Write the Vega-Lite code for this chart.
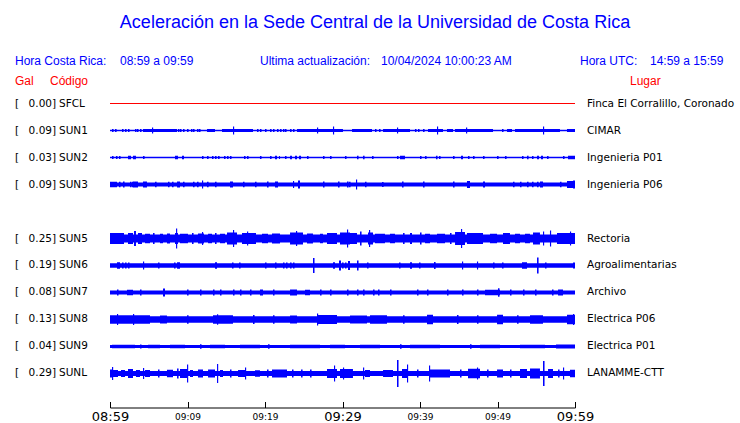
{
"$schema": "https://vega.github.io/schema/vega-lite/v6.json",
"width": 465, "height": 296,
"autosize": {"type": "none"},
"padding": {"left": 110, "top": 90.5, "right": 165, "bottom": 36.5},
"background": "white",
"config": {"view": {"stroke": null}, "text": {"font": "DejaVu Sans", "fontSize": 10.5, "color": "black", "baseline": "middle"}},
"datasets": {
"stations": [
{"station":"SFCL","gal":0.00,"lugar":"Finca El Corralillo, Coronado"},
{"station":"SUN1","gal":0.09,"lugar":"CIMAR"},
{"station":"SUN2","gal":0.03,"lugar":"Ingenieria P01"},
{"station":"SUN3","gal":0.09,"lugar":"Ingenieria P06"},
{"station":"SUN5","gal":0.25,"lugar":"Rectoria"},
{"station":"SUN6","gal":0.19,"lugar":"Agroalimentarias"},
{"station":"SUN7","gal":0.08,"lugar":"Archivo"},
{"station":"SUN8","gal":0.13,"lugar":"Electrica P06"},
{"station":"SUN9","gal":0.04,"lugar":"Electrica P01"},
{"station":"SUNL","gal":0.29,"lugar":"LANAMME-CTT"}
],
"segments": [
{"station":"SFCL","start":0,"end":60,"amp":1},
{"station":"SUN1","start":0,"end":60,"amp":1.3},
{"station":"SUN1","start":0.26,"end":0.46,"amp":3},{"station":"SUN1","start":0.65,"end":0.85,"amp":3},{"station":"SUN1","start":1.55,"end":1.75,"amp":3},{"station":"SUN1","start":1.94,"end":2.14,"amp":3},{"station":"SUN1","start":2.32,"end":2.52,"amp":3},{"station":"SUN1","start":3.23,"end":3.43,"amp":3},{"station":"SUN1","start":3.48,"end":3.68,"amp":3},{"station":"SUN1","start":3.87,"end":4.07,"amp":3},
{"station":"SUN1","start":4.26,"end":8.65,"amp":3},{"station":"SUN1","start":5.42,"end":5.57,"amp":6},
{"station":"SUN1","start":8.77,"end":8.97,"amp":3},{"station":"SUN1","start":9.03,"end":9.23,"amp":3},{"station":"SUN1","start":9.42,"end":9.62,"amp":3},{"station":"SUN1","start":9.94,"end":10.14,"amp":3},{"station":"SUN1","start":10.45,"end":10.65,"amp":3},{"station":"SUN1","start":10.71,"end":10.91,"amp":3},{"station":"SUN1","start":11.23,"end":11.43,"amp":3},{"station":"SUN1","start":11.48,"end":11.68,"amp":3},
{"station":"SUN1","start":12.52,"end":13.55,"amp":3},{"station":"SUN1","start":14.45,"end":18.45,"amp":3},{"station":"SUN1","start":15.87,"end":16.02,"amp":8},
{"station":"SUN1","start":18.97,"end":19.17,"amp":3},{"station":"SUN1","start":19.35,"end":19.55,"amp":3},{"station":"SUN1","start":20.0,"end":20.2,"amp":3},{"station":"SUN1","start":20.65,"end":20.85,"amp":3},{"station":"SUN1","start":21.03,"end":21.23,"amp":3},{"station":"SUN1","start":21.55,"end":21.75,"amp":3},{"station":"SUN1","start":21.94,"end":22.14,"amp":3},{"station":"SUN1","start":22.32,"end":22.52,"amp":3},{"station":"SUN1","start":22.58,"end":22.78,"amp":3},{"station":"SUN1","start":23.23,"end":23.43,"amp":3},{"station":"SUN1","start":23.61,"end":23.81,"amp":3},
{"station":"SUN1","start":24.13,"end":30.06,"amp":3},{"station":"SUN1","start":26.71,"end":26.86,"amp":6},{"station":"SUN1","start":28.77,"end":28.92,"amp":8},
{"station":"SUN1","start":31.23,"end":33.81,"amp":3},{"station":"SUN1","start":34.19,"end":34.39,"amp":3},{"station":"SUN1","start":34.71,"end":34.91,"amp":3},
{"station":"SUN1","start":35.23,"end":38.71,"amp":3},{"station":"SUN1","start":37.03,"end":37.18,"amp":6},
{"station":"SUN1","start":39.35,"end":39.55,"amp":3},{"station":"SUN1","start":39.74,"end":39.94,"amp":3},{"station":"SUN1","start":40.39,"end":40.59,"amp":3},
{"station":"SUN1","start":41.03,"end":42.97,"amp":3},{"station":"SUN1","start":42.19,"end":42.34,"amp":8},{"station":"SUN1","start":43.48,"end":44.26,"amp":3},{"station":"SUN1","start":44.52,"end":49.42,"amp":3},{"station":"SUN1","start":45.94,"end":46.09,"amp":6},
{"station":"SUN1","start":50.58,"end":50.78,"amp":3},{"station":"SUN1","start":51.23,"end":51.87,"amp":3},{"station":"SUN1","start":52.26,"end":58.06,"amp":3},{"station":"SUN1","start":55.87,"end":56.02,"amp":8},{"station":"SUN1","start":58.97,"end":60,"amp":3},
{"station":"SUN2","start":0,"end":60,"amp":1.3},
{"station":"SUN2","start":0.26,"end":0.46,"amp":3},{"station":"SUN2","start":0.77,"end":0.97,"amp":3},{"station":"SUN2","start":1.16,"end":1.36,"amp":3},{"station":"SUN2","start":2.32,"end":2.71,"amp":3.5},{"station":"SUN2","start":2.97,"end":3.35,"amp":3.5},{"station":"SUN2","start":4.26,"end":4.46,"amp":3},{"station":"SUN2","start":8.39,"end":8.77,"amp":3.5},{"station":"SUN2","start":9.29,"end":9.55,"amp":3.5},{"station":"SUN2","start":11.87,"end":12.07,"amp":3},{"station":"SUN2","start":12.52,"end":12.72,"amp":3},{"station":"SUN2","start":13.16,"end":13.36,"amp":3},{"station":"SUN2","start":13.55,"end":13.75,"amp":3},{"station":"SUN2","start":13.94,"end":14.14,"amp":3},{"station":"SUN2","start":14.71,"end":14.91,"amp":3},{"station":"SUN2","start":15.1,"end":15.3,"amp":3},{"station":"SUN2","start":15.48,"end":15.68,"amp":3},{"station":"SUN2","start":17.29,"end":17.49,"amp":3},{"station":"SUN2","start":17.68,"end":17.88,"amp":3},{"station":"SUN2","start":19.35,"end":19.55,"amp":3},{"station":"SUN2","start":20.65,"end":20.85,"amp":3},{"station":"SUN2","start":21.29,"end":21.55,"amp":3.5},{"station":"SUN2","start":21.81,"end":21.94,"amp":3},{"station":"SUN2","start":22.58,"end":22.78,"amp":3},{"station":"SUN2","start":23.23,"end":23.48,"amp":3.5},{"station":"SUN2","start":23.87,"end":24.13,"amp":3.5},{"station":"SUN2","start":24.39,"end":24.65,"amp":3.5},{"station":"SUN2","start":25.42,"end":25.62,"amp":3},{"station":"SUN2","start":27.48,"end":27.68,"amp":3},{"station":"SUN2","start":28.39,"end":28.59,"amp":3},
{"station":"SUN2","start":30.32,"end":30.52,"amp":3},{"station":"SUN2","start":31.87,"end":32.07,"amp":3.5},{"station":"SUN2","start":32.65,"end":32.85,"amp":3.5},{"station":"SUN2","start":33.81,"end":34.01,"amp":3},{"station":"SUN2","start":37.03,"end":37.23,"amp":3},{"station":"SUN2","start":37.42,"end":38.06,"amp":3.5},{"station":"SUN2","start":40.0,"end":40.2,"amp":3},{"station":"SUN2","start":40.65,"end":40.85,"amp":3},{"station":"SUN2","start":42.06,"end":42.26,"amp":3.5},{"station":"SUN2","start":42.45,"end":42.65,"amp":3},{"station":"SUN2","start":44.26,"end":44.46,"amp":3},{"station":"SUN2","start":45.29,"end":45.55,"amp":3.5},{"station":"SUN2","start":46.19,"end":46.39,"amp":3},{"station":"SUN2","start":46.84,"end":47.04,"amp":3},{"station":"SUN2","start":48.13,"end":48.33,"amp":3},{"station":"SUN2","start":49.94,"end":50.14,"amp":3},{"station":"SUN2","start":50.97,"end":51.17,"amp":3},{"station":"SUN2","start":53.16,"end":53.36,"amp":3},{"station":"SUN2","start":53.81,"end":54.01,"amp":3.5},{"station":"SUN2","start":54.45,"end":54.65,"amp":3},{"station":"SUN2","start":55.1,"end":55.35,"amp":3.5},{"station":"SUN2","start":55.61,"end":55.87,"amp":3.5},{"station":"SUN2","start":56.39,"end":56.59,"amp":3},{"station":"SUN2","start":58.45,"end":58.65,"amp":3},{"station":"SUN2","start":59.1,"end":60,"amp":3.5},
{"station":"SUN3","start":0,"end":60,"amp":4},
{"station":"SUN3","start":0,"end":0.9,"amp":5.5},{"station":"SUN3","start":1.16,"end":1.36,"amp":5.5},{"station":"SUN3","start":1.68,"end":1.88,"amp":6},{"station":"SUN3","start":2.58,"end":2.78,"amp":5.5},{"station":"SUN3","start":2.84,"end":3.0,"amp":5.5},{"station":"SUN3","start":2.97,"end":3.61,"amp":6},{"station":"SUN3","start":4.26,"end":4.77,"amp":6},{"station":"SUN3","start":5.81,"end":6.01,"amp":5.5},{"station":"SUN3","start":7.48,"end":7.68,"amp":5.5},{"station":"SUN3","start":8.0,"end":8.2,"amp":5.5},{"station":"SUN3","start":8.65,"end":9.03,"amp":6},{"station":"SUN3","start":9.42,"end":9.62,"amp":5.5},{"station":"SUN3","start":10.71,"end":10.91,"amp":5.5},{"station":"SUN3","start":11.23,"end":11.43,"amp":5.5},{"station":"SUN3","start":11.87,"end":12.02,"amp":8},{"station":"SUN3","start":12.52,"end":12.72,"amp":5.5},{"station":"SUN3","start":13.55,"end":13.75,"amp":5.5},{"station":"SUN3","start":15.48,"end":15.87,"amp":6},{"station":"SUN3","start":17.16,"end":17.36,"amp":5.5},{"station":"SUN3","start":18.71,"end":18.91,"amp":5.5},{"station":"SUN3","start":20.26,"end":20.46,"amp":6},{"station":"SUN3","start":21.29,"end":21.68,"amp":6},{"station":"SUN3","start":23.61,"end":23.76,"amp":7},{"station":"SUN3","start":24.26,"end":24.52,"amp":8},{"station":"SUN3","start":27.48,"end":27.68,"amp":6},{"station":"SUN3","start":29.42,"end":29.62,"amp":6},
{"station":"SUN3","start":30.58,"end":30.78,"amp":6},{"station":"SUN3","start":30.84,"end":31.04,"amp":5.5},{"station":"SUN3","start":31.74,"end":31.89,"amp":10},{"station":"SUN3","start":32.9,"end":33.1,"amp":5.5},{"station":"SUN3","start":35.1,"end":35.3,"amp":5},{"station":"SUN3","start":37.68,"end":37.88,"amp":6},{"station":"SUN3","start":40.39,"end":40.59,"amp":6},{"station":"SUN3","start":44.26,"end":44.46,"amp":6},{"station":"SUN3","start":46.06,"end":46.45,"amp":7},{"station":"SUN3","start":48.13,"end":48.39,"amp":6},{"station":"SUN3","start":52.0,"end":52.2,"amp":5.5},{"station":"SUN3","start":52.9,"end":53.1,"amp":5.5},{"station":"SUN3","start":53.81,"end":54.01,"amp":5.5},{"station":"SUN3","start":54.45,"end":54.65,"amp":5.5},{"station":"SUN3","start":55.1,"end":55.3,"amp":5.5},{"station":"SUN3","start":55.48,"end":55.87,"amp":6},{"station":"SUN3","start":58.06,"end":58.26,"amp":5.5},{"station":"SUN3","start":58.97,"end":59.74,"amp":7},{"station":"SUN3","start":59.74,"end":60,"amp":8},
{"station":"SUN5","start":0,"end":60,"amp":8},
{"station":"SUN5","start":0,"end":1.81,"amp":11},{"station":"SUN5","start":2.32,"end":2.97,"amp":11},{"station":"SUN5","start":3.1,"end":3.35,"amp":15},{"station":"SUN5","start":3.61,"end":4.13,"amp":11},{"station":"SUN5","start":4.52,"end":5.16,"amp":9.5},{"station":"SUN5","start":5.55,"end":5.75,"amp":11},{"station":"SUN5","start":6.45,"end":6.84,"amp":9.5},{"station":"SUN5","start":7.35,"end":7.74,"amp":10},{"station":"SUN5","start":8.39,"end":8.77,"amp":11},{"station":"SUN5","start":8.52,"end":8.67,"amp":20},{"station":"SUN5","start":9.03,"end":10.06,"amp":9.5},{"station":"SUN5","start":10.58,"end":10.78,"amp":11},{"station":"SUN5","start":11.35,"end":12.13,"amp":10},{"station":"SUN5","start":11.87,"end":12.02,"amp":13},{"station":"SUN5","start":12.65,"end":13.16,"amp":9.5},{"station":"SUN5","start":13.55,"end":13.75,"amp":11},{"station":"SUN5","start":14.19,"end":14.84,"amp":9.5},{"station":"SUN5","start":15.1,"end":16.39,"amp":12},{"station":"SUN5","start":15.87,"end":16.02,"amp":17},{"station":"SUN5","start":17.03,"end":18.84,"amp":11},{"station":"SUN5","start":17.68,"end":17.83,"amp":14},{"station":"SUN5","start":19.61,"end":20.39,"amp":9.5},{"station":"SUN5","start":20.9,"end":21.94,"amp":10},{"station":"SUN5","start":23.23,"end":24.9,"amp":12},{"station":"SUN5","start":24.0,"end":24.15,"amp":15},{"station":"SUN5","start":25.42,"end":26.19,"amp":10},{"station":"SUN5","start":27.1,"end":27.48,"amp":9.5},{"station":"SUN5","start":28.0,"end":29.29,"amp":11},{"station":"SUN5","start":29.68,"end":30.97,"amp":12},{"station":"SUN5","start":30.58,"end":30.73,"amp":18},{"station":"SUN5","start":30.97,"end":31.87,"amp":11},{"station":"SUN5","start":32.26,"end":32.46,"amp":14},{"station":"SUN5","start":33.29,"end":33.94,"amp":12},{"station":"SUN5","start":33.42,"end":33.57,"amp":17},{"station":"SUN5","start":34.19,"end":35.48,"amp":9.5},{"station":"SUN5","start":36.13,"end":36.77,"amp":9.5},{"station":"SUN5","start":37.81,"end":38.01,"amp":11},{"station":"SUN5","start":38.71,"end":38.97,"amp":11},{"station":"SUN5","start":40.0,"end":40.2,"amp":12},{"station":"SUN5","start":40.65,"end":41.29,"amp":9.5},{"station":"SUN5","start":42.19,"end":43.23,"amp":9.5},{"station":"SUN5","start":43.87,"end":44.07,"amp":11},{"station":"SUN5","start":44.52,"end":45.81,"amp":13},{"station":"SUN5","start":45.29,"end":45.44,"amp":19},{"station":"SUN5","start":46.06,"end":48.13,"amp":11},{"station":"SUN5","start":49.03,"end":49.94,"amp":9.5},{"station":"SUN5","start":50.71,"end":51.61,"amp":11},{"station":"SUN5","start":52.26,"end":52.9,"amp":9.5},{"station":"SUN5","start":53.55,"end":54.19,"amp":9.5},{"station":"SUN5","start":54.58,"end":55.48,"amp":12},{"station":"SUN5","start":55.87,"end":56.02,"amp":14},{"station":"SUN5","start":56.77,"end":56.92,"amp":16},{"station":"SUN5","start":57.68,"end":60,"amp":11},{"station":"SUN5","start":59.35,"end":59.5,"amp":14},
{"station":"SUN6","start":0,"end":60,"amp":4.5},
{"station":"SUN6","start":0.9,"end":1.29,"amp":6.5},{"station":"SUN6","start":1.55,"end":1.75,"amp":6},{"station":"SUN6","start":1.94,"end":2.14,"amp":6},{"station":"SUN6","start":2.32,"end":2.52,"amp":6},{"station":"SUN6","start":4.26,"end":4.41,"amp":8},{"station":"SUN6","start":6.19,"end":6.39,"amp":6},{"station":"SUN6","start":8.26,"end":8.46,"amp":6},{"station":"SUN6","start":8.65,"end":9.03,"amp":6.5},{"station":"SUN6","start":13.55,"end":13.81,"amp":6.5},{"station":"SUN6","start":15.74,"end":15.94,"amp":6},{"station":"SUN6","start":16.65,"end":16.85,"amp":6},{"station":"SUN6","start":20.0,"end":20.2,"amp":6},{"station":"SUN6","start":21.29,"end":21.49,"amp":6},{"station":"SUN6","start":22.32,"end":22.52,"amp":6},{"station":"SUN6","start":22.71,"end":22.91,"amp":6},{"station":"SUN6","start":23.23,"end":23.43,"amp":6},{"station":"SUN6","start":23.61,"end":23.81,"amp":6},{"station":"SUN6","start":26.19,"end":26.39,"amp":15},{"station":"SUN6","start":28.77,"end":29.03,"amp":6.5},{"station":"SUN6","start":29.55,"end":29.81,"amp":10},{"station":"SUN6","start":29.94,"end":30.14,"amp":6},{"station":"SUN6","start":30.32,"end":30.52,"amp":6},{"station":"SUN6","start":30.71,"end":30.97,"amp":9},{"station":"SUN6","start":31.87,"end":32.07,"amp":10},{"station":"SUN6","start":33.16,"end":33.36,"amp":6},{"station":"SUN6","start":37.29,"end":37.49,"amp":6},{"station":"SUN6","start":38.71,"end":38.97,"amp":6.5},{"station":"SUN6","start":39.87,"end":40.07,"amp":6},{"station":"SUN6","start":41.81,"end":42.01,"amp":7},{"station":"SUN6","start":45.42,"end":45.57,"amp":8},{"station":"SUN6","start":47.35,"end":47.5,"amp":8},{"station":"SUN6","start":49.42,"end":49.62,"amp":6},{"station":"SUN6","start":50.58,"end":50.78,"amp":6},{"station":"SUN6","start":53.16,"end":53.81,"amp":6.5},{"station":"SUN6","start":55.1,"end":55.3,"amp":16},{"station":"SUN6","start":56.13,"end":56.33,"amp":6},{"station":"SUN6","start":59.74,"end":60,"amp":6},
{"station":"SUN7","start":0,"end":60,"amp":4},
{"station":"SUN7","start":0.9,"end":1.1,"amp":6},{"station":"SUN7","start":2.19,"end":2.97,"amp":5.5},{"station":"SUN7","start":3.87,"end":4.07,"amp":6},{"station":"SUN7","start":6.84,"end":7.1,"amp":8},{"station":"SUN7","start":9.94,"end":10.14,"amp":6},{"station":"SUN7","start":11.61,"end":11.81,"amp":6},{"station":"SUN7","start":13.29,"end":13.49,"amp":6},{"station":"SUN7","start":14.19,"end":14.39,"amp":6},{"station":"SUN7","start":15.87,"end":16.07,"amp":6},{"station":"SUN7","start":16.77,"end":16.97,"amp":6},{"station":"SUN7","start":18.06,"end":18.26,"amp":6},{"station":"SUN7","start":19.35,"end":19.74,"amp":6},{"station":"SUN7","start":21.03,"end":21.23,"amp":6},{"station":"SUN7","start":23.23,"end":24.13,"amp":6},{"station":"SUN7","start":25.16,"end":25.81,"amp":5.5},{"station":"SUN7","start":27.1,"end":27.3,"amp":6},{"station":"SUN7","start":28.39,"end":28.59,"amp":6},{"station":"SUN7","start":30.58,"end":30.78,"amp":6},{"station":"SUN7","start":31.87,"end":32.07,"amp":6},{"station":"SUN7","start":32.65,"end":32.85,"amp":6},{"station":"SUN7","start":33.94,"end":34.14,"amp":6},{"station":"SUN7","start":34.58,"end":34.78,"amp":6},{"station":"SUN7","start":36.13,"end":36.33,"amp":6},{"station":"SUN7","start":39.61,"end":39.81,"amp":6},{"station":"SUN7","start":40.9,"end":41.1,"amp":6},{"station":"SUN7","start":43.48,"end":43.68,"amp":6},{"station":"SUN7","start":45.42,"end":45.62,"amp":6},{"station":"SUN7","start":47.35,"end":47.55,"amp":6},{"station":"SUN7","start":48.39,"end":50.32,"amp":5.5},{"station":"SUN7","start":50.06,"end":50.26,"amp":8.5},{"station":"SUN7","start":51.61,"end":51.81,"amp":6},{"station":"SUN7","start":53.29,"end":53.49,"amp":6},{"station":"SUN7","start":54.84,"end":55.04,"amp":6},{"station":"SUN7","start":57.03,"end":57.23,"amp":6},{"station":"SUN7","start":57.81,"end":58.45,"amp":6},
{"station":"SUN8","start":0,"end":60,"amp":6.5},
{"station":"SUN8","start":0,"end":5.16,"amp":8.5},{"station":"SUN8","start":0.9,"end":1.05,"amp":11},{"station":"SUN8","start":2.97,"end":3.12,"amp":11},{"station":"SUN8","start":6.45,"end":7.35,"amp":8},{"station":"SUN8","start":9.94,"end":10.14,"amp":8.5},{"station":"SUN8","start":13.29,"end":15.87,"amp":8.5},{"station":"SUN8","start":13.81,"end":13.96,"amp":10.5},{"station":"SUN8","start":18.45,"end":18.65,"amp":9},{"station":"SUN8","start":21.03,"end":21.23,"amp":8.5},{"station":"SUN8","start":23.23,"end":24.13,"amp":8},{"station":"SUN8","start":26.71,"end":29.29,"amp":9},{"station":"SUN8","start":26.71,"end":26.86,"amp":12},{"station":"SUN8","start":30.97,"end":33.16,"amp":8},{"station":"SUN8","start":33.55,"end":35.74,"amp":8.5},{"station":"SUN8","start":37.81,"end":38.01,"amp":8.5},{"station":"SUN8","start":40.9,"end":41.68,"amp":9.5},{"station":"SUN8","start":44.77,"end":44.97,"amp":9},{"station":"SUN8","start":47.35,"end":47.55,"amp":8.5},{"station":"SUN8","start":49.94,"end":50.71,"amp":9.5},{"station":"SUN8","start":52.52,"end":52.72,"amp":8.5},{"station":"SUN8","start":54.19,"end":55.87,"amp":8.5},{"station":"SUN8","start":58.97,"end":60,"amp":9.5},{"station":"SUN8","start":59.74,"end":59.89,"amp":11},
{"station":"SUN9","start":0,"end":60,"amp":3},
{"station":"SUN9","start":0.26,"end":3.23,"amp":3.5},{"station":"SUN9","start":3.87,"end":4.07,"amp":4},{"station":"SUN9","start":4.9,"end":6.45,"amp":3.5},{"station":"SUN9","start":7.74,"end":9.68,"amp":3.5},{"station":"SUN9","start":11.61,"end":11.81,"amp":4.5},{"station":"SUN9","start":12.9,"end":14.84,"amp":3.5},{"station":"SUN9","start":16.77,"end":19.35,"amp":3.5},{"station":"SUN9","start":20.39,"end":20.59,"amp":4.5},{"station":"SUN9","start":23.23,"end":27.1,"amp":3.5},{"station":"SUN9","start":28.39,"end":30.32,"amp":3.5},{"station":"SUN9","start":32.26,"end":34.84,"amp":3.5},{"station":"SUN9","start":37.42,"end":37.62,"amp":4.5},{"station":"SUN9","start":38.71,"end":42.58,"amp":3.5},{"station":"SUN9","start":46.45,"end":46.65,"amp":4.5},{"station":"SUN9","start":47.74,"end":50.32,"amp":3.5},{"station":"SUN9","start":52.9,"end":56.13,"amp":3.5},{"station":"SUN9","start":57.55,"end":60,"amp":4},
{"station":"SUNL","start":0,"end":60,"amp":5},
{"station":"SUNL","start":0,"end":0.39,"amp":8},{"station":"SUNL","start":0.26,"end":0.41,"amp":13},{"station":"SUNL","start":0.39,"end":1.03,"amp":7},{"station":"SUNL","start":1.42,"end":1.94,"amp":7},{"station":"SUNL","start":2.32,"end":2.97,"amp":9},{"station":"SUNL","start":3.35,"end":3.87,"amp":7},{"station":"SUNL","start":4.26,"end":4.41,"amp":11},{"station":"SUNL","start":4.52,"end":5.16,"amp":7},{"station":"SUNL","start":6.19,"end":6.39,"amp":8},{"station":"SUNL","start":7.35,"end":8.13,"amp":7.5},{"station":"SUNL","start":8.65,"end":8.85,"amp":10},{"station":"SUNL","start":9.03,"end":9.94,"amp":9},{"station":"SUNL","start":9.94,"end":10.09,"amp":18},{"station":"SUNL","start":10.32,"end":10.71,"amp":7},{"station":"SUNL","start":11.35,"end":12.0,"amp":8},{"station":"SUNL","start":12.65,"end":13.55,"amp":8},{"station":"SUNL","start":13.81,"end":13.96,"amp":19},{"station":"SUNL","start":14.19,"end":14.58,"amp":7},{"station":"SUNL","start":15.48,"end":15.68,"amp":8},{"station":"SUNL","start":16.52,"end":17.42,"amp":7},{"station":"SUNL","start":17.42,"end":17.57,"amp":12},{"station":"SUNL","start":18.71,"end":19.35,"amp":6.5},{"station":"SUNL","start":20.26,"end":20.46,"amp":8},{"station":"SUNL","start":20.9,"end":22.84,"amp":8},{"station":"SUNL","start":23.48,"end":23.68,"amp":8},{"station":"SUNL","start":24.65,"end":24.85,"amp":8},{"station":"SUNL","start":25.81,"end":26.01,"amp":8},{"station":"SUNL","start":28.0,"end":29.29,"amp":9},{"station":"SUNL","start":28.9,"end":29.05,"amp":16},{"station":"SUNL","start":29.68,"end":31.35,"amp":9},{"station":"SUNL","start":30.06,"end":30.21,"amp":12},{"station":"SUNL","start":32.65,"end":32.8,"amp":12},{"station":"SUNL","start":32.9,"end":33.55,"amp":7},{"station":"SUNL","start":35.23,"end":36.52,"amp":7},{"station":"SUNL","start":37.03,"end":37.23,"amp":27},{"station":"SUNL","start":37.68,"end":38.32,"amp":9},{"station":"SUNL","start":38.32,"end":38.47,"amp":18},{"station":"SUNL","start":39.61,"end":39.81,"amp":8},{"station":"SUNL","start":41.16,"end":41.31,"amp":16},{"station":"SUNL","start":41.29,"end":43.87,"amp":8},{"station":"SUNL","start":45.16,"end":45.36,"amp":8},{"station":"SUNL","start":46.19,"end":47.74,"amp":9.5},{"station":"SUNL","start":47.35,"end":47.5,"amp":12},{"station":"SUNL","start":48.65,"end":48.85,"amp":8},{"station":"SUNL","start":49.94,"end":50.71,"amp":8},{"station":"SUNL","start":51.61,"end":51.81,"amp":8},{"station":"SUNL","start":52.9,"end":53.81,"amp":9},{"station":"SUNL","start":54.19,"end":55.48,"amp":10},{"station":"SUNL","start":55.87,"end":56.07,"amp":25},{"station":"SUNL","start":56.52,"end":57.16,"amp":9},{"station":"SUNL","start":57.81,"end":58.01,"amp":8},{"station":"SUNL","start":58.45,"end":58.6,"amp":12},{"station":"SUNL","start":59.35,"end":60,"amp":7.5}
]
},
"layer": [
{
"data": {"name": "segments"},
"mark": {"type": "rule", "strokeCap": "butt"},
"encoding": {
"x": {"field": "start", "type": "quantitative", "scale": {"domain": [0, 60], "nice": false, "zero": false},
 "axis": {"values": [0,5,10,15,20,25,30,35,40,45,50,55,60], "title": null, "offset": 21, "grid": false,
  "labelExpr": "datum.value % 10 == 0 ? timeFormat(datetime(2024, 9, 4, 8, 59 + datum.value), '%H:%M') : ''",
  "domainColor": "black", "domainWidth": 1, "tickColor": "black", "tickWidth": 1, "tickSize": -6, "labelPadding": 14.5,
  "labelFont": "DejaVu Sans", "labelColor": "black", "labelBaseline": "middle", "labelFlush": false, "labelOverlap": false,
  "labelFontSize": {"condition": {"test": "datum.value % 30 == 0", "value": 13}, "value": 9}}},
"x2": {"field": "end"},
"y": {"field": "station", "type": "nominal", "scale": {"type": "point", "domain": ["SFCL","SUN1","SUN2","SUN3","SUN4","SUN5","SUN6","SUN7","SUN8","SUN9","SUNL"], "padding": 0.4815}, "axis": null},
"size": {"field": "amp", "type": "quantitative", "scale": {"domain": [0, 30], "range": [0, 30]}, "legend": null},
"color": {"condition": {"test": "datum.station === 'SFCL'", "value": "#ff0000"}, "value": "#0000ff"}
}
},
{
"data": {"name": "stations"},
"mark": {"type": "text", "text": "[", "align": "left", "dx": -95},
"encoding": {"x": {"datum": 0, "type": "quantitative"}, "y": {"field": "station", "type": "nominal"}}
},
{
"data": {"name": "stations"},
"mark": {"type": "text", "align": "right", "dx": -58},
"encoding": {"x": {"datum": 0, "type": "quantitative"}, "y": {"field": "station", "type": "nominal"}, "text": {"field": "gal", "type": "quantitative", "format": ".2f"}}
},
{
"data": {"name": "stations"},
"mark": {"type": "text", "text": "]", "align": "left", "dx": -58},
"encoding": {"x": {"datum": 0, "type": "quantitative"}, "y": {"field": "station", "type": "nominal"}}
},
{
"data": {"name": "stations"},
"mark": {"type": "text", "align": "left", "dx": -51},
"encoding": {"x": {"datum": 0, "type": "quantitative"}, "y": {"field": "station", "type": "nominal"}, "text": {"field": "station", "type": "nominal"}}
},
{
"data": {"name": "stations"},
"mark": {"type": "text", "align": "left", "dx": 12},
"encoding": {"x": {"datum": 60, "type": "quantitative"}, "y": {"field": "station", "type": "nominal"}, "text": {"field": "lugar", "type": "nominal"}}
},
{
"data": {"values": [{"label": "Aceleración en la Sede Central de la Universidad de Costa Rica"}]},
"mark": {"type": "text", "align": "center", "dx": 265, "dy": -80.5, "font": "Liberation Sans", "fontSize": 18, "color": "#0000ff"},
"encoding": {"x": {"datum": 0, "type": "quantitative"}, "y": {"datum": "SFCL", "type": "nominal"}, "text": {"field": "label"}}
},
{
"data": {"values": [{"label": "Hora Costa Rica:"}]},
"mark": {"type": "text", "align": "left", "dx": -95, "dy": -42.5, "font": "Liberation Sans", "fontSize": 12, "color": "#0000ff"},
"encoding": {"x": {"datum": 0, "type": "quantitative"}, "y": {"datum": "SFCL", "type": "nominal"}, "text": {"field": "label"}}
},
{
"data": {"values": [{"label": "08:59 a 09:59"}]},
"mark": {"type": "text", "align": "left", "dx": 10, "dy": -42.5, "font": "Liberation Sans", "fontSize": 12, "color": "#0000ff"},
"encoding": {"x": {"datum": 0, "type": "quantitative"}, "y": {"datum": "SFCL", "type": "nominal"}, "text": {"field": "label"}}
},
{
"data": {"values": [{"label": "Ultima actualización:"}]},
"mark": {"type": "text", "align": "left", "dx": 150, "dy": -42.5, "font": "Liberation Sans", "fontSize": 12, "color": "#0000ff"},
"encoding": {"x": {"datum": 0, "type": "quantitative"}, "y": {"datum": "SFCL", "type": "nominal"}, "text": {"field": "label"}}
},
{
"data": {"values": [{"label": "10/04/2024 10:00:23 AM"}]},
"mark": {"type": "text", "align": "left", "dx": 271, "dy": -42.5, "font": "Liberation Sans", "fontSize": 12, "color": "#0000ff"},
"encoding": {"x": {"datum": 0, "type": "quantitative"}, "y": {"datum": "SFCL", "type": "nominal"}, "text": {"field": "label"}}
},
{
"data": {"values": [{"label": "Hora UTC:"}]},
"mark": {"type": "text", "align": "left", "dx": 470, "dy": -42.5, "font": "Liberation Sans", "fontSize": 12, "color": "#0000ff"},
"encoding": {"x": {"datum": 0, "type": "quantitative"}, "y": {"datum": "SFCL", "type": "nominal"}, "text": {"field": "label"}}
},
{
"data": {"values": [{"label": "14:59 a 15:59"}]},
"mark": {"type": "text", "align": "left", "dx": 540, "dy": -42.5, "font": "Liberation Sans", "fontSize": 12, "color": "#0000ff"},
"encoding": {"x": {"datum": 0, "type": "quantitative"}, "y": {"datum": "SFCL", "type": "nominal"}, "text": {"field": "label"}}
},
{
"data": {"values": [{"label": "Gal"}]},
"mark": {"type": "text", "align": "left", "dx": -95, "dy": -22.5, "font": "Liberation Sans", "fontSize": 12, "color": "#ff0000"},
"encoding": {"x": {"datum": 0, "type": "quantitative"}, "y": {"datum": "SFCL", "type": "nominal"}, "text": {"field": "label"}}
},
{
"data": {"values": [{"label": "Código"}]},
"mark": {"type": "text", "align": "left", "dx": -60, "dy": -22.5, "font": "Liberation Sans", "fontSize": 12, "color": "#ff0000"},
"encoding": {"x": {"datum": 0, "type": "quantitative"}, "y": {"datum": "SFCL", "type": "nominal"}, "text": {"field": "label"}}
},
{
"data": {"values": [{"label": "Lugar"}]},
"mark": {"type": "text", "align": "left", "dx": 520, "dy": -22.5, "font": "Liberation Sans", "fontSize": 12, "color": "#ff0000"},
"encoding": {"x": {"datum": 0, "type": "quantitative"}, "y": {"datum": "SFCL", "type": "nominal"}, "text": {"field": "label"}}
}
]
}
